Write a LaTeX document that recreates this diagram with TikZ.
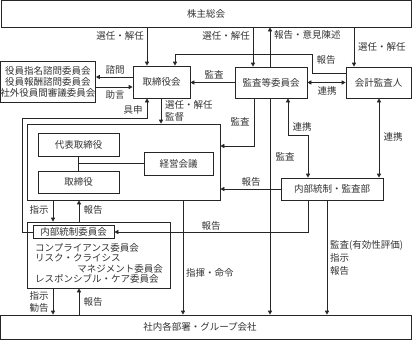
\documentclass[tikz,border=0pt]{standalone}
\usepackage{fontspec}
\setmainfont{Noto Sans CJK JP}
\usetikzlibrary{arrows.meta}
\begin{document}
\begin{tikzpicture}[x=1pt,y=-1pt,
  font=\fontsize{9.5}{10.5}\selectfont,
  every node/.style={text=black!80, inner sep=0pt},
  box/.style={draw=black!85, line width=0.8pt, fill=white, align=center},
  conn/.style={draw=black!85, line width=0.8pt},
  arr/.style={conn, -{Triangle[length=4pt,width=4.2pt]}},
  darr/.style={conn, {Triangle[length=4pt,width=4.2pt]}-{Triangle[length=4pt,width=4.2pt]}},
  lbl/.style={align=left}
]
\useasboundingbox (0,0) rectangle (412,341);

% boxes
\node[box, minimum width=410pt, minimum height=27pt] (top) at (206,13.5) {株主総会};
\node[box, minimum width=411pt, minimum height=24pt] (bot) at (205.5,327) {};
\node (bottext) at (200,327) {社内各部署・グループ会社};
\node[box, minimum width=57pt, minimum height=32pt] (kk) at (161.5,82) {取締役会};
\node[box, minimum width=94pt, minimum height=41pt, font=\fontsize{9.5}{11}\selectfont] (iin) at (48,81.5) {役員指名諮問委員会\\役員報酬諮問委員会\\社外役員間審議委員会};
\node[box, minimum width=72pt, minimum height=31pt] (kansa) at (271,82.5) {監査等委員会};
\node[box, minimum width=65pt, minimum height=31pt] (kaikei) at (378.5,82.5) {会計監査人};
\node[box, minimum width=193pt, minimum height=76pt] (exec) at (123.5,162) {};
\node[box, minimum width=81pt, minimum height=23pt] (daihyo) at (78.5,144.5) {代表取締役};
\node[box, minimum width=81pt, minimum height=22pt] (tori) at (78.5,182) {取締役};
\node[box, minimum width=69pt, minimum height=23pt] (keiei) at (178.5,163.5) {経営会議};
\node[box, minimum width=102pt, minimum height=22pt] (naibu) at (332,189) {内部統制・監査部};
\node[box, minimum width=143pt, minimum height=66pt] (cgrp) at (98.5,255) {};
\node[box, minimum width=81pt, minimum height=13pt] (icc) at (73.5,232) {内部統制委員会};
\node[anchor=west] (c1) at (35,247.5) {コンプライアンス委員会};
\node[anchor=west] (c2) at (35,258) {リスク・クライシス};
\node[anchor=east] (c3) at (163,268.5) {マネジメント委員会};
\node[anchor=west] (c4) at (35,279) {レスポンシブル・ケア委員会};

% x positions
\coordinate (x147) at (147,0);
\coordinate (x253) at (253,0);
\coordinate (x270) at (270,0);
\coordinate (x354) at (354,0);
\coordinate (x175) at (175,0);
\coordinate (x161) at (161,0);
\coordinate (x254) at (254,0);
\coordinate (x288) at (288,0);
\coordinate (x308) at (308,0);
\coordinate (x379) at (379,0);
\coordinate (x327) at (327,0);
\coordinate (x183) at (183,0);
\coordinate (x53) at (53,0);
\coordinate (x79) at (79,0);
\coordinate (y77) at (0,77);
\coordinate (y87) at (0,87);
\coordinate (y73) at (0,73);
\coordinate (y146) at (0,146);
\coordinate (y189) at (0,189);
\coordinate (jA) at (312,73);
\coordinate (jB) at (312,54);
\coordinate (jC) at (175,54);
\coordinate (jD) at (22,232);
\coordinate (jE) at (22,118);
\coordinate (jF) at (147,118);
\coordinate (jG) at (254,146);
\coordinate (jH) at (288,135);
\coordinate (jI) at (308,135);
\coordinate (jJ) at (308,232);

% connectors from shareholders
\draw[arr] (top.south -| x147) -- (kk.north -| x147);
\node[anchor=east] (l1) at (144,36) {選任・解任};
\draw[arr] (top.south -| x253) -- (kansa.north -| x253);
\node[anchor=east] (l2) at (250,36) {選任・解任};
\draw[arr] (kansa.north -| x270) -- (top.south -| x270);
\node[anchor=west] (l3) at (274,35) {報告・意見陳述};
\draw[arr] (top.south -| x354) -- (kaikei.north -| x354);
\node[anchor=west] (l4) at (358,47) {選任・解任};

% accounting auditor report to board
\draw[arr] (kaikei.west |- y73) -- (jA) -- (jB) -- (jC) -- (kk.north -| jC);
\node (l5) at (326,60) {報告};

% audit committee -> board
\draw[arr] (kansa.west) -- (kk.east |- kansa.west);
\node (l6) at (214,75) {監査};
\draw[darr] (kansa.east) -- (kaikei.west);
\node (l7) at (327,91) {連携};

% board <-> committees
\draw[arr] (kk.west |- y77) -- (iin.east |- y77);
\node (l8) at (115,70) {諮問};
\draw[arr] (iin.east |- y87) -- (kk.west |- y87);
\node (l9) at (115,95) {助言};

% gushin
\draw[arr] (icc.west) -- (jD) -- (jE) -- (jF) -- (kk.south -| jF);
\node (l10) at (133,110) {具申};

% board -> exec
\draw[arr] (kk.south -| x161) -- (exec.north -| x161);
\node[anchor=west, lbl] (l11) at (165,105) {選任・解任};
\node[anchor=west, lbl] (l12) at (165,117) {監督};

% audit committee -> exec
\draw[arr] (kansa.south -| x254) -- (jG) -- (exec.east |- jG);
\node (l13) at (240,122) {監査};

% audit committee -> departments
\draw[arr] (kansa.south -| x270) -- (bot.north -| x270);
\node (l14) at (285,157) {監査};

% audit committee <-> internal audit
\draw[darr] (kansa.south -| x288) -- (jH) -- (jI) -- (naibu.north -| jI);
\node (l15) at (302,127) {連携};
\draw[darr] (kaikei.south -| x379) -- (naibu.north -| x379);
\node (l16) at (393,137) {連携};

% internal audit -> exec / committee / departments
\draw[arr] (naibu.west |- y189) -- (exec.east |- y189);
\node (l17) at (251,182) {報告};
\draw[arr] (naibu.south -| x308) -- (jJ) -- (icc.east |- jJ);
\node (l18) at (211,226) {報告};
\draw[arr] (naibu.south -| x327) -- (bot.north -| x327);
\node[anchor=west] (l19) at (330,245) {監査(有効性評価)};
\node[anchor=west] (l20) at (330,258) {指示};
\node[anchor=west] (l21) at (330,271) {報告};

% exec -> departments
\draw[arr] (exec.south -| x183) -- (bot.north -| x183);
\node[anchor=west] (l22) at (186,273) {指揮・命令};

% inside exec
\draw[conn] (daihyo.south) -- (tori.north);
\draw[conn] (daihyo.south |- keiei.west) -- (keiei.west);

% exec <-> committee group
\draw[arr] (exec.south -| x53) -- (cgrp.north -| x53);
\node (l23) at (39,210) {指示};
\draw[arr] (cgrp.north -| x79) -- (exec.south -| x79);
\node (l24) at (93,210) {報告};
\draw[arr] (cgrp.south -| x53) -- (bot.north -| x53);
\node (l25) at (39,296) {指示};
\node (l26) at (39,308) {勧告};
\draw[arr] (bot.north -| x79) -- (cgrp.south -| x79);
\node (l27) at (93,302) {報告};
\end{tikzpicture}
\end{document}
